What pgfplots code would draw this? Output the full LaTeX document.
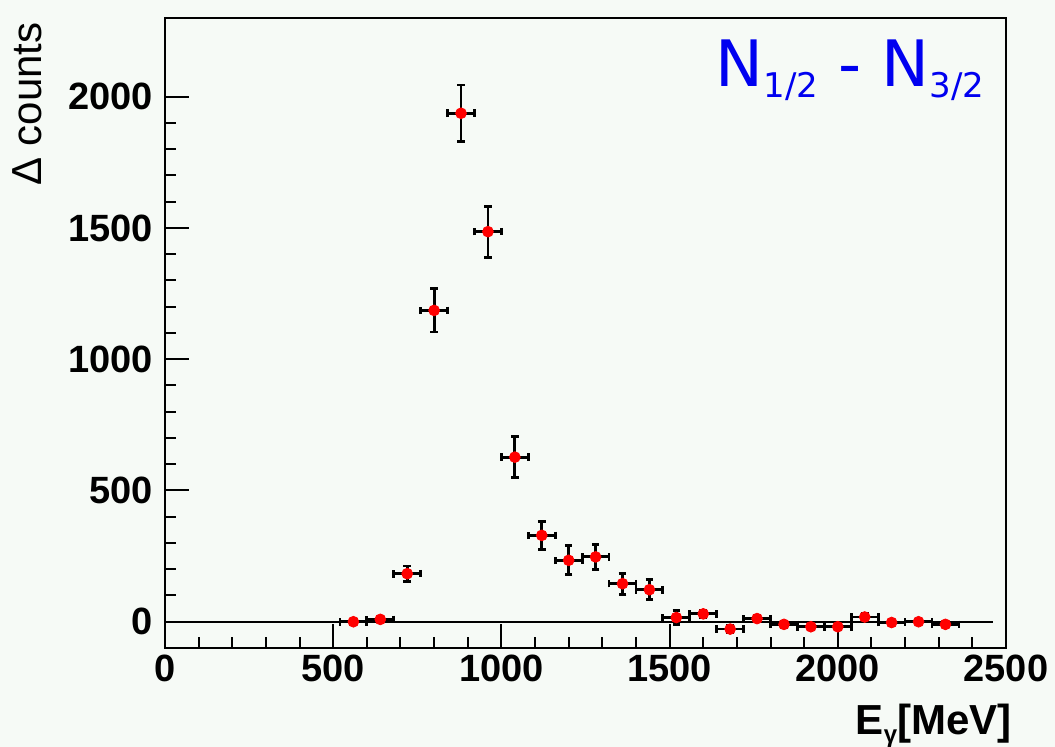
\documentclass[border=0pt]{standalone}
\usepackage{fontspec}
\setmainfont{Liberation Sans}
\newfontfamily\titlefont{DejaVu Sans}
\usepackage{graphicx}
\usepackage{pgfplots}
\usepackage{pgfplotstable}
\pgfplotsset{compat=1.18}
\definecolor{bgc}{RGB}{246,250,246}
\definecolor{ttl}{RGB}{0,0,240}

\pgfplotstableread{
x y ex ey
560 0 40 10
640 9 40 10
720 183 40 29
800 1186 40 82
880 1937 40 108
960 1486 40 97
1040 627 40 79
1120 329 40 54
1200 234 40 55
1280 247 40 48
1360 145 40 40
1440 122 40 38
1520 16 40 28
1600 30 40 15
1680 -28 40 15
1760 12 40 12
1840 -10 40 12
1920 -19 40 12
2000 -19 40 12
2080 18 40 12
2160 -3 40 12
2240 0 40 10
2320 -10 40 10
}\data

\begin{document}
\begin{tikzpicture}
\fill[bgc] (-82.5pt,-49.5pt) rectangle (445pt,324pt);
\useasboundingbox (-82.5pt,-49.5pt) rectangle (445pt,324pt);
\begin{axis}[
  name=ax,
  at={(0,0)}, anchor=south west,
  scale only axis, width=420.5pt, height=315pt,
  xmin=0, xmax=2500, ymin=-100, ymax=2300,
  xtick={0,500,...,2500}, ytick={0,500,...,2000},
  minor x tick num=4, minor y tick num=4,
  tick pos=left, tick align=inside,
  major tick length=12pt, minor tick length=5.5pt,
  every tick/.style={black, line width=1pt},
  axis background/.style={fill=bgc},
  ticklabel style={font=\fontsize{19}{19}\selectfont\bfseries},
  /pgf/number format/assume math mode=true,
  /pgf/number format/1000 sep={},
  yticklabel style={xshift=-2.5pt},
  clip mode=individual,
]
\addplot[black, line width=1.1pt] coordinates {(0,0) (2460,0)};
\addplot[only marks, mark=*, mark size=2.7pt, red, mark options={fill=red, draw=red},
  error bars/.cd, x dir=both, x explicit, y dir=both, y explicit,
  error bar style={black, line width=1.4pt},
  error mark=-,
  error mark options={black, line width=1.4pt, mark size=1.9pt, rotate=90}]
  table[x=x, y=y, x error=ex, y error=ey] {\data};
\end{axis}
\draw[line width=1.4pt] (ax.south west) rectangle (ax.north east);
\node[anchor=base east, text=ttl, inner sep=0pt] at ([xshift=-10.5pt, yshift=-34.5pt]ax.north east)
  {\titlefont\fontsize{32}{32}\selectfont N\raisebox{-5.5pt}{\fontsize{17}{17}\selectfont 1/2} - N\raisebox{-5.5pt}{\fontsize{17}{17}\selectfont 3/2}};
\node[anchor=base east, inner sep=0pt, font=\fontsize{21}{21}\selectfont\bfseries] at ([xshift=3pt, yshift=-43.5pt]ax.south east)
  {E\raisebox{-4pt}{\fontsize{12}{12}\selectfont γ}[MeV]};
\node[rotate=90, anchor=base east, inner sep=0pt, font=\fontsize{21}{21}\selectfont] at ([xshift=-61.5pt, yshift=-2pt]ax.north west)
  {Δ counts};
\end{tikzpicture}
\end{document}
